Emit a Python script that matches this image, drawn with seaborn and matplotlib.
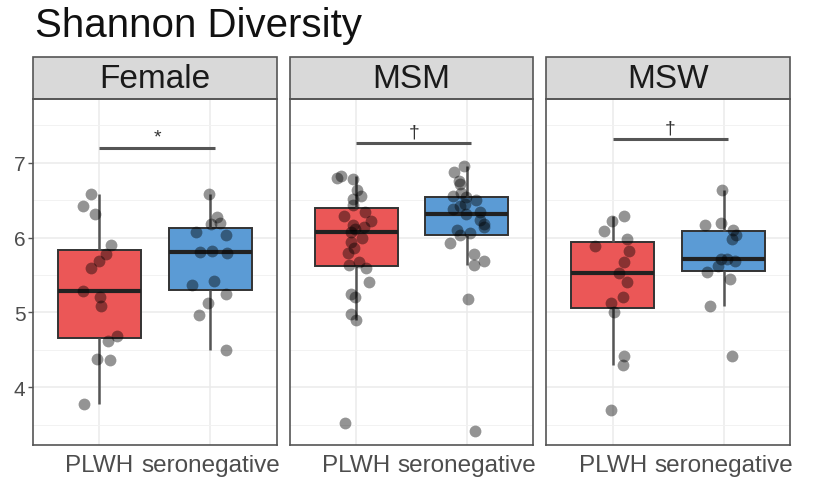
import numpy as np
import pandas as pd
import matplotlib
matplotlib.use("Agg")
import matplotlib.pyplot as plt
from matplotlib.patches import Rectangle
from matplotlib.ticker import MultipleLocator
import seaborn as sns

# --- data ---
panels = ["Female", "MSM", "MSW"]
groups = ["PLWH", "seronegative"]

female_plwh = [3.78, 4.36, 4.38, 4.62, 4.69, 5.09, 5.21, 5.29, 5.60, 5.69,
               5.78, 5.90, 6.32, 6.42, 6.58]
female_seroneg = [4.50, 4.96, 5.13, 5.24, 5.36, 5.42, 5.80, 5.81, 5.82, 6.04,
                  6.08, 6.18, 6.20, 6.27, 6.58]
msm_plwh = [3.52, 4.90, 4.98, 5.20, 5.24, 5.40, 5.60, 5.64, 5.68, 5.80,
            5.86, 5.94, 6.00, 6.07, 6.11, 6.14, 6.17, 6.22, 6.29, 6.34,
            6.44, 6.51, 6.56, 6.64, 6.78, 6.80, 6.82]
msm_seroneg = [3.42, 5.18, 5.64, 5.69, 5.78, 5.93, 6.04, 6.06, 6.10, 6.14,
               6.18, 6.24, 6.32, 6.34, 6.38, 6.42, 6.45, 6.50, 6.54, 6.56,
               6.60, 6.71, 6.76, 6.87, 6.96]
msw_plwh = [3.70, 4.30, 4.42, 5.00, 5.12, 5.20, 5.40, 5.53, 5.67, 5.82,
            5.89, 5.98, 6.09, 6.22, 6.29]
msw_seroneg = [4.42, 5.08, 5.44, 5.54, 5.62, 5.69, 5.71, 5.71, 5.98, 6.04,
               6.10, 6.17, 6.19, 6.64]

sig_labels = ["*", "\u2020", "\u2020"]
sig_heights = [7.20, 7.26, 7.32]

y_ticks = [4, 5, 6, 7]

# --- long table ---
values = {
    ("Female", "PLWH"): female_plwh,
    ("Female", "seronegative"): female_seroneg,
    ("MSM", "PLWH"): msm_plwh,
    ("MSM", "seronegative"): msm_seroneg,
    ("MSW", "PLWH"): msw_plwh,
    ("MSW", "seronegative"): msw_seroneg,
}
rows = []
for (panel, grp), vals in values.items():
    for v in vals:
        rows.append({"panel": panel, "status": grp, "shannon": v})
df = pd.DataFrame(rows)

sns.set_style("white")
plt.rcParams["font.family"] = ["Liberation Sans", "DejaVu Sans"]

pal = {"PLWH": "#EB5757", "seronegative": "#5B9BD5"}
np.random.seed(7)

fig, axes = plt.subplots(1, 3, figsize=(8.14, 4.89), dpi=100, sharey=True)
fig.subplots_adjust(left=33 / 814, right=790 / 814, bottom=1 - 446 / 489,
                    top=1 - 100 / 489, wspace=0.053)

for i, (ax, panel) in enumerate(zip(axes, panels)):
    sub = df[df["panel"] == panel]
    sns.boxplot(data=sub, x="status", y="shannon", hue="status", order=groups,
                palette=pal, saturation=1, width=0.75, showfliers=False,
                showcaps=False, linecolor="#333333", linewidth=1.4,
                whiskerprops=dict(color="#555555", linewidth=1.8),
                medianprops=dict(linewidth=3, color="#222222"),
                legend=False, ax=ax)
    sns.stripplot(data=sub, x="status", y="shannon", order=groups,
                  color="black", alpha=0.42, size=8.5, jitter=0.17,
                  linewidth=0, ax=ax)

    ax.set_xlim(-0.6, 1.6)
    ax.set_ylim(3.23, 7.85)
    ax.set_yticks(y_ticks)
    ax.yaxis.set_minor_locator(MultipleLocator(0.5))
    ax.set_axisbelow(True)
    ax.grid(True, which="major", color="#EBEBEB", linewidth=1.1)
    ax.grid(True, which="minor", axis="y", color="#F2F2F2", linewidth=0.7)
    ax.set_xlabel("")
    ax.set_ylabel("")
    for s in ax.spines.values():
        s.set_color("#555555")
        s.set_linewidth(1.2)
    ax.tick_params(axis="x", length=3.5, width=1, color="#555555",
                   labelsize=17.5, labelcolor="#4D4D4D", pad=3)
    ax.tick_params(axis="y", which="minor", length=0)
    if i == 0:
        ax.tick_params(axis="y", which="major", length=3.5, width=1,
                       color="#555555", labelsize=15, labelcolor="#4D4D4D",
                       pad=2, left=True)
    else:
        ax.tick_params(axis="y", which="major", left=False, labelleft=False)

    # strip on top of the panel
    strip_h = 42 / 346
    ax.add_patch(Rectangle((0, 1), 1, strip_h, transform=ax.transAxes,
                           facecolor="#D9D9D9", edgecolor="#555555",
                           linewidth=1.2, clip_on=False))
    ax.text(0.5, 1 + strip_h / 2, panel, transform=ax.transAxes,
            ha="center", va="center", fontsize=24, color="#1A1A1A")

    # significance bracket
    yb = sig_heights[i]
    ax.plot([0, 1.04], [yb, yb], color="#555555", linewidth=2.2,
            solid_capstyle="butt")
    ax.text(0.52, yb + 0.03, sig_labels[i], ha="center", va="bottom",
            fontsize=14, color="#333333")

fig.text(35 / 814, 1 - 37 / 489, "Shannon Diversity", fontsize=29,
         ha="left", va="baseline", color="#111111")

fig.savefig("out.png", dpi=100)
